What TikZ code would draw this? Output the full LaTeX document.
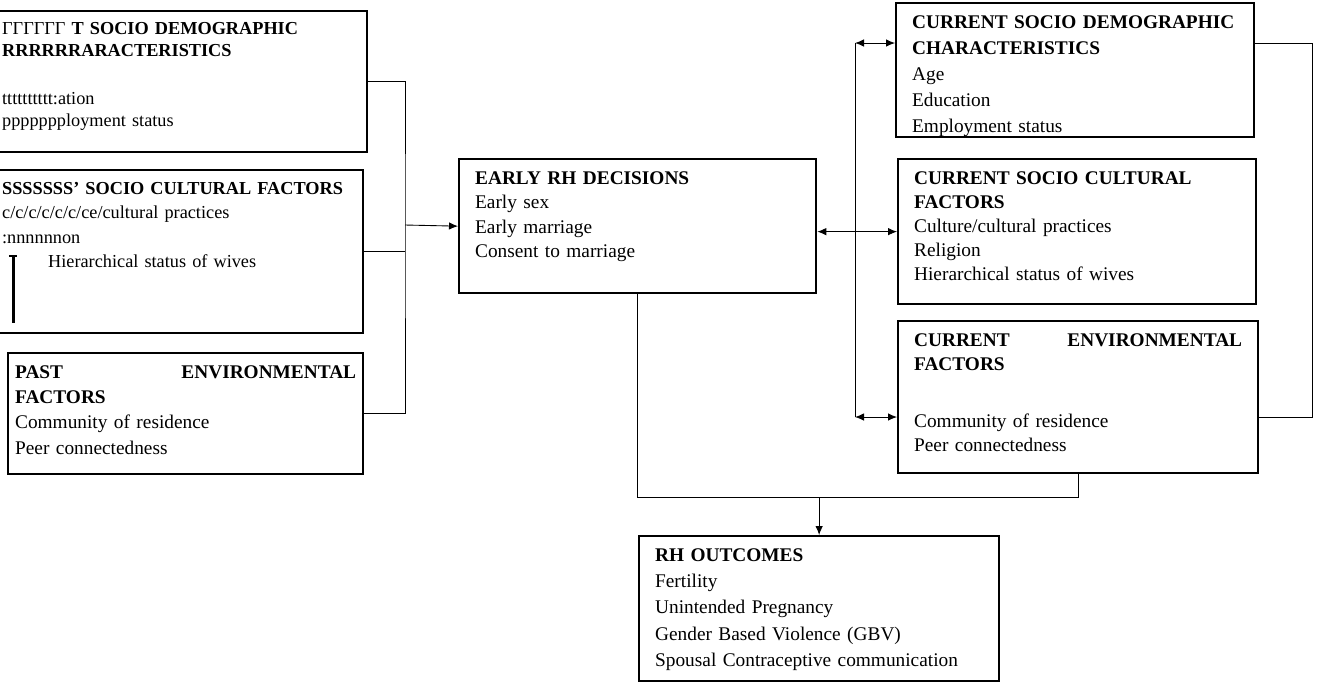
\documentclass[tikz,border=0pt]{standalone}
\usepackage{fontspec}
\setmainfont{Liberation Serif}
\usetikzlibrary{positioning,arrows.meta,calc}
\tikzset{
  linkline/.style={line width=0.5pt},
  flowarrow/.style={-{Latex[length=1.8mm,width=1.5mm]}, line width=0.5pt},
  botharrow/.style={{Latex[length=1.8mm,width=1.5mm]}-{Latex[length=1.8mm,width=1.5mm]}, line width=0.5pt},
  factorbox/.style={draw, line width=1.3pt, anchor=north west, align=left, inner xsep=0.32cm, inner ysep=0.1cm, text height=0.4cm, font=\fontsize{11}{14}\selectfont},
  smallbox/.style={factorbox, font=\fontsize{10.4}{12.5}\selectfont, text height=0.36cm}
}

\begin{document}
\begin{tikzpicture}
  \useasboundingbox (0,0) rectangle (26.54,-13.64);
  \node[smallbox, text width=6.98cm, text depth=2.26cm] (pastdemo) at (-0.3,-0.2)
    {ΓΓΓΓΓΓ \textbf{T SOCIO DEMOGRAPHIC}\\ \textbf{RRRRRRARACTERISTICS}\\[0.52cm] tttttttttt:ation\\ ppppppployment status};
  \node[factorbox, font=\fontsize{10.4}{13.9}\selectfont, text height=0.38cm, text width=6.9cm, text depth=2.68cm] (pastcult) at (-0.3,-3.38)
    {\textbf{SSSSSSS' SOCIO CULTURAL FACTORS}\\ c/c/c/c/c/c/ce/cultural practices\\ :nnnnnnon\\ \hspace*{0.92cm}Hierarchical status of wives};
  \draw[line width=1.3pt] (0.18,-5.12) -- (0.34,-5.12) (0.27,-5.12) -- (0.27,-6.46);
  \node[factorbox, inner xsep=0.14cm, text width=6.82cm, text depth=1.82cm, font=\fontsize{11}{14.4}\selectfont] (pastenv) at (0.14,-7.04)
    {\textbf{PAST\hfill ENVIRONMENTAL}\hspace*{0.24cm}\\ \textbf{FACTORS}\\ Community of residence\\ Peer connectedness};

  \node[factorbox, text width=6.5cm, text depth=2.08cm] (earlyrh) at (9.16,-3.16)
    {\textbf{EARLY RH DECISIONS}\\ Early sex\\ Early marriage\\ Consent to marriage};

  \node[factorbox, text width=6.52cm, text depth=2.08cm, font=\fontsize{11}{14.8}\selectfont] (curdemo) at (17.9,-0.04)
    {\textbf{CURRENT SOCIO DEMOGRAPHIC}\\ \textbf{CHARACTERISTICS}\\ Age\\ Education\\ Employment status};
  \node[factorbox, text width=6.52cm, text depth=2.3cm, font=\fontsize{11}{13.7}\selectfont] (curcult) at (17.94,-3.16)
    {\textbf{CURRENT SOCIO CULTURAL}\\ \textbf{FACTORS}\\ Culture/cultural practices\\ Religion\\ Hierarchical status of wives};
  \node[factorbox, text width=6.56cm, text depth=2.44cm] (curenv) at (17.94,-6.4)
    {\textbf{CURRENT\hfill ENVIRONMENTAL}\\ \textbf{FACTORS}\\[0.64cm] Community of residence\\ Peer connectedness};

  \node[factorbox, text width=6.56cm, text depth=2.3cm, font=\fontsize{11}{15}\selectfont] (outcomes) at (12.76,-10.7)
    {\textbf{RH OUTCOMES}\\ Fertility\\ Unintended Pregnancy\\ Gender Based Violence (GBV)\\ Spousal Contraceptive communication};

  \coordinate (lbus) at (8.1,-4.5);
  \draw[linkline] (pastdemo.east) -| (lbus) |- (pastenv.east);
  \draw[linkline] (pastcult.east) -- (pastcult.east -| lbus);
  \draw[flowarrow] (lbus) -- (earlyrh.west);

  \draw[botharrow] (curcult.west -| earlyrh.east) -- (curcult.west);

  \coordinate (rtop) at (17.1,-0.86);
  \coordinate (rbot) at (17.1,-8.34);
  \draw[linkline] (rtop) -- (rbot);
  \draw[botharrow] (rtop) -- (rtop -| curdemo.west);
  \draw[botharrow] (rbot) -- (rbot -| curenv.west);
  \draw[linkline] (rtop -| curdemo.east) -- ++(1.14,0) |- (rbot -| curenv.east);

  \coordinate (merge) at (outcomes.north |- 0,-9.94);
  \draw[linkline] (earlyrh.south) |- (merge) -| (curenv.south);
  \draw[flowarrow] (merge) -- (outcomes.north);
\end{tikzpicture}
\end{document}
